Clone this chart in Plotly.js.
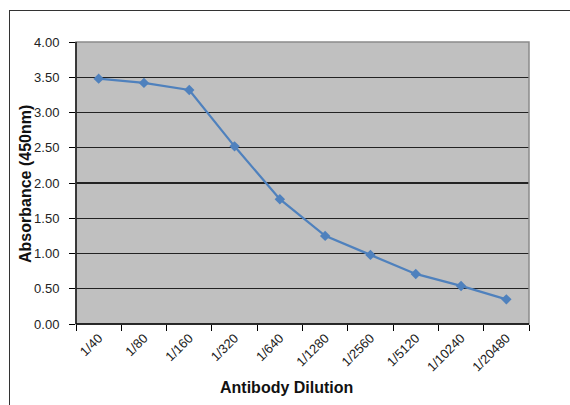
<!DOCTYPE html>
<html><head><meta charset="utf-8">
<script src="https://cdn.plot.ly/plotly-3.0.1.min.js"></script>
<style>
html,body{margin:0;padding:0;background:#fff;overflow:hidden;width:570px;height:405px;}
#frame{position:absolute;left:9px;top:10px;width:700px;height:600px;border:1.5px solid #333;box-sizing:border-box;pointer-events:none;}
#chart{position:absolute;left:0;top:0;width:570px;height:405px;}
</style></head>
<body>
<div id="chart"></div>
<div id="frame"></div>
<script>
const dilutions = ["1/40","1/80","1/160","1/320","1/640","1/1280","1/2560","1/5120","1/10240","1/20480"];
const absorbance = [3.48, 3.42, 3.32, 2.52, 1.77, 1.25, 0.98, 0.71, 0.54, 0.35];
const yTicks = [0,0.5,1,1.5,2,2.5,3,3.5,4];
const yTickText = ["0.00","0.50","1.00","1.50","2.00","2.50","3.00","3.50","4.00"];
const xTitle = 'Antibody Dilution';
const yTitle = 'Absorbance (450nm)';

const FONT = 'Liberation Sans, Arial, sans-serif';
const trace = {
  x: dilutions, y: absorbance, type: 'scatter', mode: 'lines+markers',
  line: {color: '#4f81bd', width: 2.25},
  marker: {symbol: 'diamond', size: 8, color: '#4f81bd'},
  cliponaxis: false
};
const layout = {
  width: 570, height: 405,
  margin: {l: 76, r: 41, t: 42, b: 81},
  paper_bgcolor: 'rgba(0,0,0,0)',
  plot_bgcolor: '#c0c0c0',
  showlegend: false,
  font: {family: FONT, color: '#222', size: 12},
  xaxis: {
    type: 'category', tickangle: -45, tickson: 'boundaries',
    ticks: 'outside', ticklen: 6, tickcolor: '#000', tickwidth: 1,
    showgrid: false, showline: false, zeroline: false,
    tickfont: {size: 13}, ticklabelstandoff: 3,
    range: [-0.5, 9.5]
  },
  yaxis: {
    range: [0, 4], tickvals: yTicks, ticktext: yTickText,
    ticks: 'outside', ticklen: 6, tickcolor: '#000',
    showgrid: true, gridcolor: '#222', gridwidth: 1.3,
    zeroline: false, showline: false,
    tickfont: {size: 13}, ticklabelstandoff: 7
  },
  annotations: [
    {text: xTitle, xref: 'paper', yref: 'paper', x: (286-76)/453, y: -(388-324)/282,
     xanchor: 'center', yanchor: 'middle', showarrow: false,
     font: {size: 16, color: '#111', family: FONT, weight: 'bold'}},
    {text: yTitle, xref: 'paper', yref: 'paper', x: -(76-25)/453, y: (324-184)/282,
     xanchor: 'center', yanchor: 'middle', showarrow: false, textangle: -90,
     font: {size: 16, color: '#111', family: FONT, weight: 'bold'}}
  ],
  shapes: [
    {type: 'rect', xref: 'paper', yref: 'paper', x0: 0, x1: 1, y0: 0, y1: 1, line: {color: '#8a8a8a', width: 1.5}, layer: 'above'},
    {type: 'line', xref: 'paper', yref: 'paper', x0: 0, x1: 0, y0: 0, y1: 1, line: {color: '#000', width: 1.3}, layer: 'above'},
    {type: 'line', xref: 'paper', yref: 'paper', x0: 0, x1: 1, y0: 0, y1: 0, line: {color: '#000', width: 1.3}, layer: 'above'}
  ]
};
Plotly.newPlot('chart', [trace], layout, {displayModeBar: false, staticPlot: true});
</script>
</body></html>
